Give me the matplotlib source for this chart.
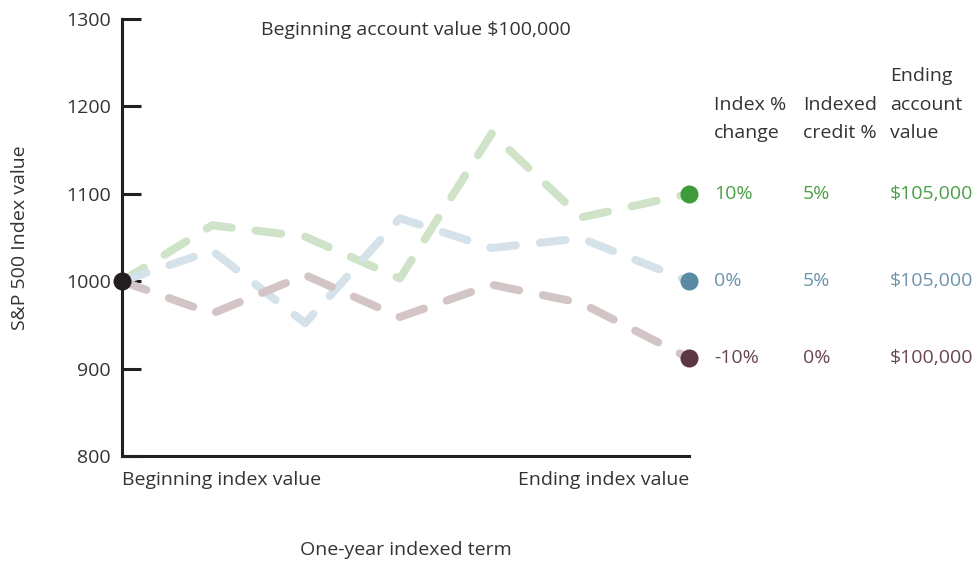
import matplotlib
matplotlib.use('Agg')
import matplotlib.pyplot as plt

plt.rcParams['font.family'] = ['Open Sans', 'DejaVu Sans']

# term position (0 = beginning, 1 = end) and index paths
term_pos = [0, 0.159, 0.323, 0.49, 0.652, 0.81, 1.0]
path_up = [1000, 1064, 1051, 1003, 1169, 1073, 1100]
path_flat = [1000, 1035, 952, 1072, 1038, 1049, 1000]
path_down = [1000, 963, 1007, 959, 996, 975, 912]

y_ticks = [800, 900, 1000, 1100, 1200, 1300]
x_labels = ['Beginning index value', 'Ending index value']
col_headers = ['Index %\nchange', 'Indexed\ncredit %', 'Ending\naccount\nvalue']
index_change = ['10%', '0%', '-10%']
credit = ['5%', '5%', '0%']
ending_value = ['$105,000', '$105,000', '$100,000']

text_col = '#333333'
line_cols = ['#cfe3c9', '#d6e2ea', '#d3c5c6']
dot_cols = ['#3f9a3b', '#5b8aa4', '#5c3641']
txt_cols = ['#4aa046', '#6b94ad', '#6a4550']
fs = 14

fig = plt.figure(figsize=(9.77, 5.63), dpi=100)
ax = fig.add_axes([122/977, 1 - 456/563, (689-122)/977, (456-19)/563])
ax.set_xlim(0, 1)
ax.set_ylim(800, 1300)

paths = [path_up, path_flat, path_down]
for p, lc in zip(paths, line_cols):
    ax.plot(term_pos, p, color=lc, lw=5.8, dashes=(3.2, 3.0),
            dash_capstyle='round', solid_joinstyle='round',
            dash_joinstyle='round', clip_on=False, zorder=2)

for p, dc in zip(paths, dot_cols):
    ax.plot(term_pos[-1], p[-1], 'o', ms=13, color=dc, mec='none',
            clip_on=False, zorder=4)
ax.plot(term_pos[0], path_up[0], 'o', ms=13, color='#231f20', mec='none',
        clip_on=False, zorder=4)

for s in ['top', 'right']:
    ax.spines[s].set_visible(False)
for s in ['left', 'bottom']:
    ax.spines[s].set_linewidth(2.2)
    ax.spines[s].set_color('#231f20')

ax.set_yticks(y_ticks)
ax.tick_params(axis='y', direction='in', length=14, width=2.2,
               color='#231f20', labelsize=fs, labelcolor=text_col, pad=8)
ax.set_xticks([])

ax.text(0, -0.035, x_labels[0], transform=ax.transAxes, ha='left', va='top',
        fontsize=fs, color=text_col)
ax.text(1, -0.035, x_labels[1], transform=ax.transAxes, ha='right', va='top',
        fontsize=fs, color=text_col)

ax.set_xlabel('One-year indexed term', fontsize=fs, color=text_col, labelpad=61)
ax.set_ylabel('S&P 500 Index value', fontsize=fs, color=text_col, labelpad=27)

fig.text(416/977, 1 - 30/563, 'Beginning account value $100,000',
         ha='center', va='center', fontsize=fs, color=text_col)

col_x = [714/977, 803/977, 890/977]
for cx, h in zip(col_x, col_headers):
    fig.text(cx, 1 - 142/563, h, ha='left', va='bottom', fontsize=fs,
             color=text_col, linespacing=1.75)

for i, p in enumerate(paths):
    yd = ax.transData.transform((1, p[-1]))[1] / fig.bbox.height
    for cx, vals in zip(col_x, [index_change, credit, ending_value]):
        fig.text(cx, yd, vals[i], ha='left', va='center', fontsize=fs,
                 color=txt_cols[i])

fig.savefig('out.png', dpi=100)
